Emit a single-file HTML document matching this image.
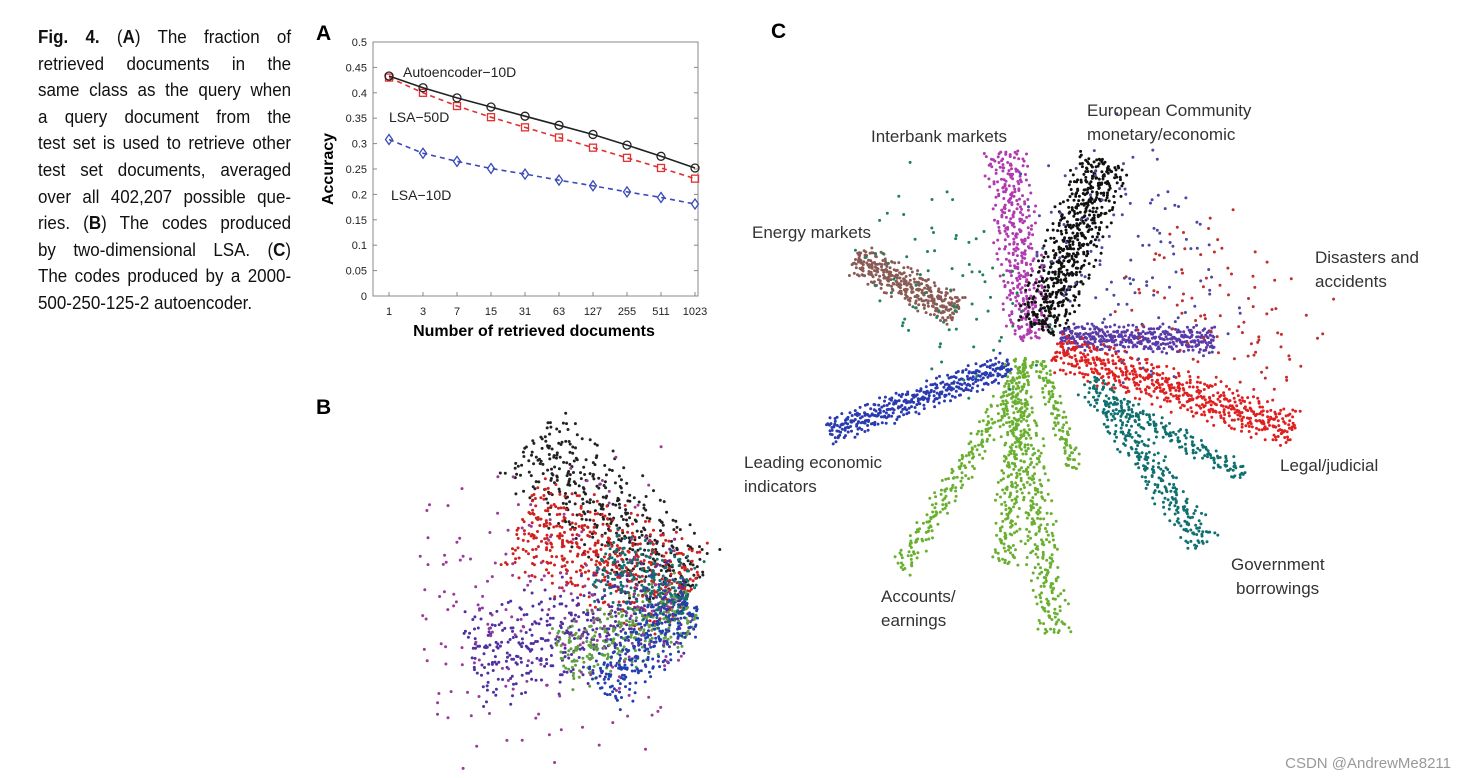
<!DOCTYPE html>
<html><head><meta charset="utf-8">
<style>
body{margin:0;width:1465px;height:778px;background:#fff;overflow:hidden;position:relative;font-family:"Liberation Sans",sans-serif}
#cap{position:absolute;left:38px;top:24px;width:276px;transform:scaleX(0.917);transform-origin:0 0;font-size:18.5px;line-height:26.6px;color:#111}
#cap div{text-align:justify;text-align-last:justify;white-space:nowrap}
#cap div.l{text-align-last:left}
svg{position:absolute;left:0;top:0}
.wm{position:absolute;right:14px;bottom:6px;font-size:15px;color:#999}
</style></head><body>
<div id="cap">
<div><b>Fig. 4.</b> (<b>A</b>) The fraction of</div>
<div>retrieved documents in the</div>
<div>same class as the query when</div>
<div>a query document from the</div>
<div>test set is used to retrieve other</div>
<div>test set documents, averaged</div>
<div>over all 402,207 possible que-</div>
<div>ries. (<b>B</b>) The codes produced</div>
<div>by two-dimensional LSA. (<b>C</b>)</div>
<div>The codes produced by a 2000-</div>
<div class="l">500-250-125-2 autoencoder.</div>
</div>
<svg id="s" width="1465" height="778"></svg>
<div class="wm">CSDN @AndrewMe8211</div>
<script>
const xCats=["1","3","7","15","31","63","127","255","511","1023"];
const auto10=[.433,.41,.39,.372,.354,.336,.318,.297,.275,.252];
const lsa50=[.43,.4,.374,.352,.332,.312,.292,.272,.252,.231];
const lsa10=[.308,.281,.265,.251,.240,.228,.217,.205,.194,.181];
const yTicks=[0,.05,.1,.15,.2,.25,.3,.35,.4,.45,.5];
// panel C clusters: [name,color,x0,y0,x1,y1,width,count]
const armsC=[
["interbank","#b03ab0",1030,340,1005,150,26,380],
["european","#111111",1040,330,1105,160,32,600],
["energy","#8a5a55",855,258,958,312,20,360],
["disasters","#5a3aa8",1060,337,1215,340,16,400],
["legal","#e02020",1055,350,1295,430,24,560],
["leading","#2a3ab0",1010,365,828,432,16,400],
["acct1","#6ab030",1030,360,900,570,14,240],
["acct2","#6ab030",1020,360,1005,565,16,240],
["acct3","#6ab030",1020,400,1055,635,20,300],
["acct4","#6ab030",1040,360,1075,470,10,110],
["gov","#107070",1090,380,1205,545,20,300],
["teal2","#107070",1110,400,1245,475,12,160],
["mixC","#4a4aa0",1060,300,1200,220,150,120],
["mixC2","#c03030",1150,250,1290,380,100,100],
["mixC3","#208060",900,330,1000,250,140,80]
];
const armsB=[
["bBlack","#222222",690,590,530,440,55,450],
["bRed","#d02020",690,595,520,520,60,500],
["bPurple","#5030a0",690,600,470,660,60,450],
["bGreen","#60a040",692,605,560,660,40,280],
["bBlue","#2040b0",690,600,600,690,35,250],
["bMix","#9a3a9a",680,600,420,620,170,200],
["bTeal","#107070",690,600,600,560,45,200]
];
const NS="http://www.w3.org/2000/svg",S=document.getElementById('s');
function el(t,a,p){const e=document.createElementNS(NS,t);for(const k in a)e.setAttribute(k,a[k]);(p||S).appendChild(e);return e;}
function txt(x,y,s,a,p){const e=el('text',Object.assign({x:x,y:y},a),p);e.textContent=s;return e;}
function halton(i,b){let f=1,r=0;while(i>0){f/=b;r+=f*(i%b);i=Math.floor(i/b);}return r;}
// Panel A
const X0=389,DX=34,YB=296,YS=508;
const xs=i=>X0+i*DX, ys=v=>YB-v*YS;
const A=el('g',{});
txt(316,40,"A",{'font-size':21,'font-weight':'bold'},A);
el('rect',{x:373,y:42,width:325,height:254,fill:'none',stroke:'#888','stroke-width':1},A);
yTicks.forEach(v=>{el('line',{x1:373,x2:377,y1:ys(v),y2:ys(v),stroke:'#888'},A);el('line',{x1:694,x2:698,y1:ys(v),y2:ys(v),stroke:'#888'},A);
 const t=txt(367,ys(v)+4,String(v),{'font-size':11,'text-anchor':'end',fill:'#222'},A);});
xCats.forEach((c,i)=>{el('line',{x1:xs(i),x2:xs(i),y1:296,y2:292,stroke:'#888'},A);const t=txt(xs(i),315,c,{'font-size':11,'text-anchor':'middle',fill:'#222'},A);});
const xt=txt(534,336,"Number of retrieved documents",{'font-size':16,'font-weight':'bold','text-anchor':'middle'},A);
const yt=txt(0,0,"Accuracy",{'font-size':16,'font-weight':'bold','text-anchor':'middle',transform:'translate(333,169) rotate(-90)'},A);
function series(vals,col,dash,mk,name){const g=el('g',{},A);
 el('polyline',{points:vals.map((v,i)=>xs(i)+','+ys(v)).join(' '),fill:'none',stroke:col,'stroke-width':1.6,'stroke-dasharray':dash},g);
 vals.forEach((v,i)=>{const x=xs(i),y=ys(v);let m;
  if(mk=='o')m=el('circle',{cx:x,cy:y,r:4,fill:'none',stroke:col,'stroke-width':1.3},g);
  else if(mk=='s')m=el('rect',{x:x-3.5,y:y-3.5,width:7,height:7,fill:'none',stroke:col,'stroke-width':1.3},g);
  else m=el('polygon',{points:`${x},${y-5} ${x+3.5},${y} ${x},${y+5} ${x-3.5},${y}`,fill:'none',stroke:col,'stroke-width':1.3},g);
  });}
series(lsa10,'#3a4ab8','5,4','d','lsa-10d-line');
series(lsa50,'#e03030','5,4','s','lsa-50d-line');
series(auto10,'#222','','o','autoencoder-10d-line');
[["Autoencoder−10D",403,77],["LSA−50D",389,122],["LSA−10D",391,200]].forEach(a=>{const t=txt(a[1],a[2],a[0],{'font-size':14,fill:'#222'},A);});
// scatter
function drawArms(arms,name){const g=el('g',{});
 arms.forEach((a,k)=>{const [n,c,x0,y0,x1,y1,w,cnt]=a;const dx=x1-x0,dy=y1-y0,L=Math.hypot(dx,dy),nx=-dy/L,ny=dx/L;
  for(let i=1;i<=cnt;i++){const t=halton(i+k*7,2),u=halton(i+k*7,3),v=halton(i+k*7,5);
   const s=(u+v-1)*w;const x=x0+dx*t+nx*s,y=y0+dy*t+ny*s;
   el('circle',{cx:x.toFixed(1),cy:y.toFixed(1),r:1.5,fill:c},g);}});return g;}
drawArms(armsB,'panel-b-scatter');
drawArms(armsC,'panel-c-scatter');
const bl=txt(316,414,"B",{'font-size':21,'font-weight':'bold'});
const cl=txt(771,38,"C",{'font-size':21,'font-weight':'bold'});
[["Interbank markets",871,142],["European Community",1087,116],["monetary/economic",1087,140],["Energy markets",752,238],["Disasters and",1315,263],["accidents",1315,287],["Leading economic",744,468],["indicators",744,492],["Legal/judicial",1280,471],["Government",1231,570],["borrowings",1236,594],["Accounts/",881,602],["earnings",881,626]].forEach(a=>{const t=txt(a[1],a[2],a[0],{'font-size':17,fill:'#333'});});
</script>
</body></html>
